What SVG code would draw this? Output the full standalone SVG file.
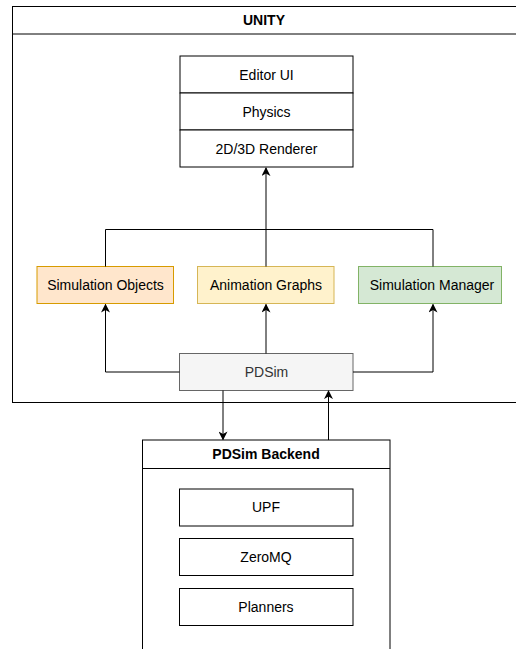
<svg xmlns="http://www.w3.org/2000/svg" width="516" height="649" viewBox="0 0 516 649">
<style>
text{font-family:"Liberation Sans",Arial,sans-serif;font-size:14px;text-anchor:middle;dominant-baseline:central;fill:#000}
.b{font-weight:bold}
.box{fill:#fff;stroke:#000;stroke-width:1}
.c{fill:none;stroke:#000;stroke-width:1}
</style>
<defs>
<marker id="ah" viewBox="0 0 10 10" refX="9" refY="5" markerWidth="9" markerHeight="9" markerUnits="userSpaceOnUse" orient="auto">
<path d="M0,0 L10,5 L0,10 L3,5 Z" fill="#000"/>
</marker>
</defs>
<g id="unity">
<rect class="box" x="12.5" y="6.5" width="520" height="396"/>
<line class="c" x1="12.5" y1="34" x2="532" y2="34"/>
<text class="b" x="264" y="20">UNITY</text>
</g>
<g id="stack">
<rect class="box" x="180" y="56" width="173" height="37"/>
<text x="266.5" y="74.5">Editor UI</text>
<rect class="box" x="180" y="93" width="173" height="37"/>
<text x="266.5" y="111.5">Physics</text>
<rect class="box" x="180" y="130" width="173" height="37"/>
<text x="266.5" y="148.5">2D/3D Renderer</text>
</g>
<g id="sim-objects">
<rect x="37" y="266.5" width="136.5" height="37" fill="#ffe6cc" stroke="#d79b00"/>
<text x="105.5" y="284.5">Simulation Objects</text>
</g>
<g id="anim-graphs">
<rect x="197.5" y="266.5" width="136.5" height="37" fill="#fff2cc" stroke="#d6b656"/>
<text x="266" y="284.5">Animation Graphs</text>
</g>
<g id="sim-manager">
<rect x="358.5" y="266.5" width="143" height="37" fill="#d5e8d4" stroke="#82b366"/>
<text x="432" y="284.5">Simulation Manager</text>
</g>
<g id="pdsim">
<rect x="179.5" y="353.5" width="173.5" height="37" fill="#f5f5f5" stroke="#666666"/>
<text x="266.5" y="371.5" style="fill:#333333">PDSim</text>
</g>
<g id="backend">
<rect class="box" x="142.5" y="440" width="247.5" height="230"/>
<line class="c" x1="142.5" y1="468.5" x2="390" y2="468.5"/>
<text class="b" x="266" y="454">PDSim Backend</text>
</g>
<g id="upf">
<rect class="box" x="179.5" y="489" width="173.5" height="37"/>
<text x="266" y="507">UPF</text>
</g>
<g id="zeromq">
<rect class="box" x="179.5" y="538.5" width="173.5" height="37"/>
<text x="266" y="556.5">ZeroMQ</text>
</g>
<g id="planners">
<rect class="box" x="179.5" y="588.5" width="173.5" height="37"/>
<text x="266" y="606.5">Planners</text>
</g>
<g id="connectors">
<polyline class="c" points="105.5,266.5 105.5,229.5 433,229.5 433,266.5"/>
<line class="c" x1="266" y1="266.5" x2="266" y2="168" marker-end="url(#ah)"/>
<polyline class="c" points="179.5,372 105.5,372 105.5,304.5" marker-end="url(#ah)"/>
<line class="c" x1="266" y1="353.5" x2="266" y2="304.5" marker-end="url(#ah)"/>
<polyline class="c" points="353,372 433,372 433,304.5" marker-end="url(#ah)"/>
<line class="c" x1="223" y1="390.5" x2="223" y2="439.5" marker-end="url(#ah)"/>
<line class="c" x1="328.5" y1="440" x2="328.5" y2="391" marker-end="url(#ah)"/>
</g>
</svg>
